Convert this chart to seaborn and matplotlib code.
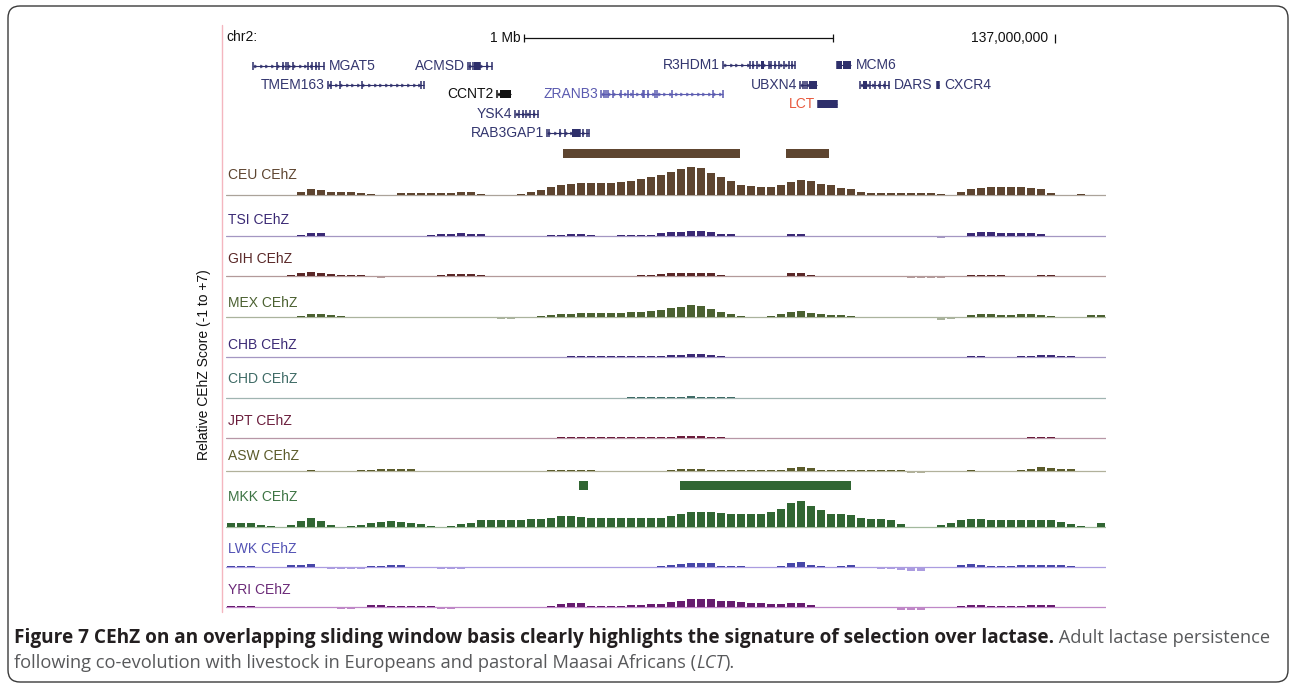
import numpy as np
import pandas as pd
import matplotlib.pyplot as plt
import seaborn as sns
from matplotlib.patches import FancyBboxPatch, Rectangle

W, H = 1290, 683

# ---- window / bins (Mb on chr2) ----
win_start = 134.317
win_step = 0.03236
n_bins = 88

tracks = ['CEU', 'TSI', 'GIH', 'MEX', 'CHB', 'CHD', 'JPT', 'ASW', 'MKK', 'LWK', 'YRI']

ceu = [0, 0, 0, 0, 0, 0, 0.1, 0.7, 1.5, 1.2, 0.7,
       0.6, 0.6, 0.5, 0.2, 0, 0.1, 0.35, 0.35, 0.4, 0.4, 0.45,
       0.55, 0.6, 0.6, 0.2, 0, 0, 0, 0.2, 0.7, 1.2, 1.9,
       2.3, 2.6, 2.7, 2.8, 2.8, 2.9, 3.0, 3.3, 3.7, 4.2, 4.7,
       5.3, 6.0, 6.5, 6.3, 5.1, 4.2, 3.3, 2.3, 2.1, 1.9, 1.9,
       2.3, 3.0, 3.5, 3.3, 2.6, 2.3, 1.6, 1.4, 0.7, 0.35, 0.35,
       0.35, 0.35, 0.35, 0.35, 0.35, 0.2, 0, 0.7, 1.4, 1.7, 1.9,
       1.9, 1.9, 1.9, 1.7, 1.4, 0.5, 0, 0, 0.2, 0, 0]
tsi = [0, 0, 0, 0, 0, 0, 0, 0.3, 0.7, 0.6, 0,
       0, 0, 0, 0, 0, 0, 0, 0, 0, 0.3, 0.4,
       0.5, 0.6, 0.5, 0.4, 0, 0, 0, 0, 0, 0, 0.3,
       0.3, 0.35, 0.35, 0.3, 0.1, 0.1, 0.2, 0.25, 0.25, 0.3, 0.8,
       1.0, 1.0, 1.2, 1.1, 0.9, 0.5, 0.4, -0.2, -0.3, -0.3, -0.3,
       -0.1, 0.5, 0.5, 0.1, 0.1, 0.1, 0.1, 0.1, 0.1, 0.1, 0.1,
       -0.1, -0.1, -0.1, -0.1, -0.3, -0.4, -0.3, 0.1, 0.7, 1.0, 1.0,
       0.8, 0.7, 0.6, 0.6, 0.4, -0.1, -0.1, -0.1, -0.1, -0.1, 0.1]
gih = [0, 0, 0, 0, 0, 0, 0.3, 0.6, 0.85, 0.8, 0.4,
       0.3, 0.25, 0.2, 0, -0.4, -0.1, 0, 0, 0, 0, 0.3,
       0.4, 0.4, 0.35, 0.3, 0, 0, 0, 0, 0, 0, 0,
       0.1, 0.1, 0.1, 0.1, 0.1, 0.1, 0.1, 0.1, 0.2, 0.3, 0.5,
       0.6, 0.6, 0.8, 0.6, 0.6, 0.2, 0.1, -0.3, -0.3, -0.3, -0.3,
       -0.1, 0.6, 0.6, 0.2, 0, -0.2, -0.3, -0.3, -0.3, -0.3, -0.3,
       -0.3, -0.3, -0.5, -0.5, -0.5, -0.5, 0, 0, 0.25, 0.25, 0.25,
       0.2, -0.2, -0.2, -0.2, 0.2, 0.2, 0, -0.3, -0.3, -0.3, -0.3]
mex = [-0.15, -0.15, -0.15, -0.15, -0.15, -0.15, -0.15, 0.3, 0.6, 0.6, 0.4,
       0.2, 0, -0.3, -0.3, -0.3, -0.3, -0.3, -0.3, -0.3, -0.3, -0.3,
       -0.3, -0.3, -0.3, -0.3, -0.3, -0.5, -0.5, -0.2, 0, 0.2, 0.4,
       0.6, 0.8, 0.9, 1.0, 1.0, 1.0, 1.0, 1.1, 1.2, 1.3, 1.6,
       2.0, 2.4, 2.8, 2.5, 1.8, 1.2, 0.8, 0.3, 0.1, 0.1, 0.2,
       0.7, 1.2, 1.4, 1.0, 0.6, 0.5, 0.4, 0.3, -0.2, -0.3, -0.3,
       -0.3, -0.3, -0.3, -0.3, -0.3, -0.6, -0.5, -0.2, 0.4, 0.6, 0.6,
       0.5, 0.5, 0.6, 0.6, 0.5, 0.2, 0, 0, 0.1, 0.5, 0.5]
chb = [0, 0, 0, 0, 0, 0, 0, 0, 0, 0, 0,
       0, 0, 0, 0, 0, 0, 0, 0, 0, 0, 0,
       0, 0, 0, 0, 0, 0, 0, 0, 0, 0, 0,
       0.1, 0.15, 0.15, 0.15, 0.15, 0.15, 0.15, 0.15, 0.15, 0.15, 0.3,
       0.4, 0.5, 0.6, 0.6, 0.4, 0.2, 0.1, 0, 0, 0, 0,
       0, 0, 0, 0, 0, 0, 0, 0, 0, 0, 0,
       0, 0, 0, 0, 0, 0, 0, 0, 0.2, 0.2, 0,
       0, 0, 0.2, 0.3, 0.35, 0.35, 0.3, 0.2, 0, 0, 0]
chd = [0, 0, 0, 0, 0, 0, 0, 0, 0, 0, 0,
       0, 0, 0, 0, 0, 0, 0.1, 0.1, 0.1, 0.1, 0.1,
       0.1, 0.1, 0, 0, 0, 0, 0, 0, 0, 0, 0,
       0.1, 0.1, 0.1, 0.1, 0.1, 0.1, 0.1, 0.2, 0.2, 0.2, 0.2,
       0.2, 0.2, 0.45, 0.3, 0.2, 0.2, 0.2, 0, 0, 0, 0,
       0, 0, 0, 0, 0, 0, 0, 0, 0, 0, 0,
       0, 0, 0, 0, 0, 0, 0, 0, 0, 0, 0,
       0, 0, 0, 0.1, 0.1, 0.1, 0.1, 0.1, 0.1, 0.1, 0]
jpt = [0, 0, 0, 0, 0, 0, 0, 0, 0, 0, 0,
       0, 0, 0, 0, 0, 0, 0, 0, 0, 0, 0,
       0.1, 0.1, 0, 0, 0, 0, 0, 0, 0, 0, 0,
       0.2, 0.2, 0.2, 0.2, 0.15, 0.15, 0.15, 0.15, 0.15, 0.15, 0.15,
       0.15, 0.4, 0.45, 0.4, 0.3, 0.2, 0, 0, 0, 0, 0,
       0, 0, 0, 0, 0, 0, 0, 0, 0, 0, 0,
       0, 0, 0, 0, 0, 0, 0, 0, 0, 0, 0,
       0, 0, 0, 0.3, 0.3, 0.2, 0, 0, 0, 0, 0]
asw = [-0.1, -0.1, -0.1, -0.1, -0.1, -0.1, -0.1, 0.1, 0.25, 0.1, 0,
       0, 0, 0.2, 0.3, 0.4, 0.5, 0.5, 0.4, -0.1, -0.3, -0.3,
       -0.3, -0.2, -0.15, -0.15, -0.15, -0.15, -0.15, -0.15, -0.15, 0.1, 0.15,
       0.15, 0.15, 0.15, 0.15, -0.2, -0.2, -0.2, 0.1, 0.1, 0.1, 0.1,
       0.3, 0.4, 0.5, 0.4, 0.2, 0.15, 0.15, 0.15, 0.15, 0.15, 0.15,
       0.15, 0.7, 1.0, 0.6, 0.15, 0.15, 0.15, 0.15, 0.15, 0.15, 0.15,
       0.15, 0.15, -0.5, -0.5, -0.3, -0.3, -0.3, 0.1, 0.2, 0.1, 0.1,
       0.1, 0.1, 0.2, 0.5, 0.9, 0.8, 0.5, 0.4, 0.1, 0, 0]
mkk = [1.0, 1.0, 1.0, 0.5, 0.2, 0.1, 0.5, 1.5, 2.2, 1.4, 0.5,
       0.1, 0.2, 0.4, 1.0, 1.2, 1.3, 1.1, 1.0, 0.8, 0.3, 0.1,
       0.2, 0.6, 1.0, 1.6, 1.7, 1.7, 1.6, 1.6, 1.8, 1.9, 2.2,
       2.5, 2.5, 2.4, 2.1, 2.0, 2.0, 2.0, 2.0, 2.0, 2.0, 2.2,
       2.5, 3.0, 3.5, 3.5, 3.5, 3.2, 3.1, 3.0, 3.0, 3.0, 3.6,
       4.3, 5.5, 6.0, 5.0, 4.0, 3.0, 3.0, 2.8, 2.1, 1.9, 1.9,
       1.6, 0.8, 0.1, 0, 0, 0.5, 0.9, 1.6, 1.9, 1.9, 1.6,
       1.55, 1.55, 1.55, 1.6, 1.7, 1.6, 1.2, 0.6, 0.2, 0, 0.9]
lwk = [0.25, 0.25, 0.2, 0, 0, 0.1, 0.4, 0.5, 0.6, -0.3, -0.55,
       -0.55, -0.5, -0.4, 0.2, 0.3, 0.4, 0.4, 0.1, -0.2, -0.2, -0.5,
       -0.5, -0.5, -0.3, 0.1, 0.1, 0.1, -0.1, 0.1, 0.1, -0.1, 0.1,
       -0.2, -0.2, -0.1, 0.1, 0.1, 0.1, 0.1, 0.1, 0.1, 0.1, 0.3,
       0.4, 0.7, 1.0, 1.0, 0.9, 0.3, 0.2, 0.2, -0.2, -0.2, 0.1,
       0.2, 0.9, 1.1, 0.5, 0.2, -0.1, 0.3, 0.35, 0, -0.1, -0.4,
       -0.5, -0.7, -0.9, -0.9, -0.2, 0.1, 0.1, 0.5, 0.6, 0.5, 0.2,
       0.2, 0.2, 0.4, 0.45, 0.45, 0.45, 0.4, 0.3, -0.3, 0, 0.1]
yri = [0.25, 0.25, 0.25, 0.1, 0.1, -0.2, -0.2, -0.2, -0.2, 0, 0.05,
       -0.35, -0.35, -0.3, 0.4, 0.45, 0.2, 0.15, 0.15, 0.15, 0.15, -0.35,
       -0.35, 0.1, 0.1, 0.1, -0.1, -0.1, -0.1, -0.1, -0.1, -0.1, 0.3,
       0.7, 0.9, 0.9, 0.25, 0.25, 0.3, 0.25, 0.45, 0.5, 0.6, 0.8,
       1.1, 1.3, 1.8, 1.85, 1.8, 1.5, 1.3, 1.1, 0.9, 0.9, 0.7,
       0.8, 0.9, 0.9, 0.4, 0.05, -0.1, -0.1, -0.1, -0.1, -0.1, -0.25,
       -0.3, -0.6, -0.7, -0.6, -0.3, -0.3, -0.2, 0.3, 0.45, 0.45, 0.2,
       0.2, 0.2, 0.2, 0.5, 0.55, 0.5, 0.1, 0.05, -0.3, 0.1, 0.1]
scores = [ceu, tsi, gih, mex, chb, chd, jpt, asw, mkk, lwk, yri]

# selected regions (Mb) drawn above CEU and MKK
ceu_hits = [(135.408, 135.981), (136.129, 136.269)]
mkk_hits = [(135.460, 135.489), (135.786, 136.340)]

# genes (Mb), exons and coding blocks as fractions of the gene span
gene_names = ['MGAT5', 'TMEM163', 'ACMSD', 'CCNT2', 'ZRANB3', 'YSK4', 'RAB3GAP1',
              'R3HDM1', 'UBXN4', 'LCT', 'MCM6', 'DARS', 'CXCR4']
gene_start = [134.405, 134.647, 135.100, 135.194, 135.531, 135.252, 135.356,
              135.926, 136.175, 136.233, 136.294, 136.369, 136.618]
gene_end = [134.634, 134.958, 135.178, 135.239, 135.926, 135.327, 135.492,
            136.159, 136.230, 136.294, 136.340, 136.463, 136.625]
gene_exons = [[0, .34, .42, .46, .49, .56, .77, .83, .89, .93, 1],
              [0, .03, .13, .35, .97, 1],
              [0, .1, .19, .29, .39, .5, .79, 1],
              [0],
              [0, .02, .04, .06, .1, .16, .22, .26, .34, .35, .38, .44, .46, .58, .92, 1],
              [0, .19, .34, .49, .66, .81, 1],
              [0, .05, .31, .43, .78, .86, .94, 1],
              [0, .37, .42, .47, .63, .67, .72, .77, .84, .91, .95, 1],
              [0, .14, .26, .4],
              [0, 1],
              [0],
              [0, .34, .51, .68, .85, 1],
              [0, 1]]
gene_cds = [[], [], [(.25, .5)], [(.25, 1)], [], [], [(.59, .78)],
            [(.52, .56)], [(.5, 1)], [(0, 1)], [(0, .35), (.42, 1)], [(.09, .23)], [(0, 1)]]

# ---- layout / style ----
baseline_px = [195, 236, 276, 317, 357, 398, 438, 471, 527, 567, 607]
label_off_px = [20, 16, 17, 14, 12, 19, 17, 15, 30, 18, 17]
px_per_unit = 4.3
dark = ['#5e4530', '#3b2a75', '#5a2828', '#4b6131', '#3b2a75', '#3f6b66',
        '#6b1d3c', '#5b5b2b', '#316633', '#4747a8', '#661c6e']
light = ['#aba39a', '#a497c2', '#b39a9a', '#aab39d', '#a497c2', '#a0b4b1',
         '#b797a6', '#b1b19b', '#a2b99d', '#ab9ce0', '#bf87c7']
label_col = ['#5e4530', '#3b2a75', '#5a2828', '#4b6131', '#3b2a75', '#3f6b66',
             '#6b1d3c', '#5b5b2b', '#3d7444', '#5252b4', '#6b2a78']
gene_row = [66, 85, 66, 94, 94, 114, 133, 65, 85, 104, 65, 85, 85]
gene_side = ['R', 'L', 'L', 'L', 'L', 'L', 'L', 'L', 'L', 'L', 'R', 'R', 'R']
gene_lab_col = ['#33366f'] * 3 + ['#111111', '#5b5bb0'] + ['#33366f'] * 4 + ['#e8593d'] + ['#33366f'] * 3
gene_glyph_col = ['#2e2f6b'] * 3 + ['#111111', '#5b5bb0'] + ['#2e2f6b'] * 8

sns.set_theme(style="white")
plt.rcParams['font.family'] = ['Liberation Sans', 'DejaVu Sans']

fig = plt.figure(figsize=(W / 100, H / 100), dpi=100)
xlim = (win_start, win_start + n_bins * win_step)
ax_left, ax_w = 226 / W, 880 / W
mb_px = 1 / 309.0

# overlay in pixel space for frame, caption etc.
over = fig.add_axes([0, 0, 1, 1])
over.set_xlim(0, W)
over.set_ylim(H, 0)
over.axis('off')
over.add_patch(FancyBboxPatch((8, 6), 1280, 676, boxstyle='round,pad=0,rounding_size=12',
                              fc='none', ec='#3a3a3a', lw=1.0))
over.plot([222, 222], [25, 612], color='#f4b6bf', lw=1.0)
over.text(204, 365, 'Relative CEhZ Score (-1 to +7)', rotation=90, ha='center', va='center',
          fontsize=10, color='#111111')

# ---- gene track ----
gax = fig.add_axes([ax_left, (H - 145) / H, ax_w, 125 / H])
gax.set_xlim(*xlim)
gax.set_ylim(145, 20)
gax.axis('off')
gax.text(xlim[0], 37, 'chr2:', ha='left', va='center', fontsize=10, color='#111111')
gax.plot([135.282, 136.282], [38, 38], color='#111111', lw=0.9)
gax.vlines([135.282, 136.282], 34, 42, color='#111111', lw=0.9)
gax.text(135.282 - 4 * mb_px, 38, '1 Mb', ha='right', va='center', fontsize=10, color='#111111')
gax.vlines([137.0], 34, 43, color='#111111', lw=0.9)
gax.text(137.0 - 7 * mb_px, 38, '137,000,000', ha='right', va='center', fontsize=10, color='#111111')

for name, s, e, ex, cds, y, side, lc, gc in zip(gene_names, gene_start, gene_end, gene_exons,
                                                  gene_cds, gene_row, gene_side,
                                                  gene_lab_col, gene_glyph_col):
    span = e - s
    gax.plot([s, e], [y, y], color=gc, lw=0.8, solid_capstyle='butt')
    # little intron arrows
    if span > 0.04:
        ticks = np.arange(s + 0.01, e - 0.005, 0.018)
        gax.plot(ticks, [y] * len(ticks), ls='none', marker=5, ms=2.0, color=gc, alpha=0.8)
    gax.vlines([s + f * span for f in ex], y - 4, y + 4, color=gc, lw=1.1)
    for a, b in cds:
        gax.add_patch(Rectangle((s + a * span, y - 4), (b - a) * span, 8, color=gc, lw=0))
    if side == 'L':
        gax.text(s - 3 * mb_px, y, name, ha='right', va='center', fontsize=10, color=lc)
    else:
        gax.text(e + 5 * mb_px, y, name, ha='left', va='center', fontsize=10, color=lc)

# ---- CEhZ tracks ----
centers = win_start + win_step * (np.arange(n_bins) + 0.5)
for k, name in enumerate(tracks):
    b = baseline_px[k]
    ax = fig.add_axes([ax_left, (H - b - px_per_unit) / H, ax_w, 8 * px_per_unit / H])
    df = pd.DataFrame({'pos': centers, 'score': scores[k]})
    df['sign'] = np.where(df['score'] >= 0, 'pos', 'neg')
    ax.axhline(0, color=light[k], lw=0.9, zorder=0)
    sns.barplot(data=df, x='pos', y='score', hue='sign', palette={'pos': dark[k], 'neg': light[k]},
                native_scale=True, dodge=False, width=0.9, errorbar=None, legend=False,
                saturation=1, linewidth=0, ax=ax)
    ax.set_xlim(*xlim)
    ax.set_ylim(-1, 7)
    ax.axis('off')
    ax.text(xlim[0] + 1.5 * mb_px, label_off_px[k] / px_per_unit, name + ' CEhZ', ha='left',
            va='center', fontsize=10, color=label_col[k])
    hits = ceu_hits if name == 'CEU' else mkk_hits if name == 'MKK' else []
    for s, e in hits:
        ax.add_patch(Rectangle((s, 8.5), e - s, 2.1, color=dark[k], lw=0, clip_on=False))

# ---- caption ----
renderer = fig.canvas.get_renderer()
cap_font = ['Open Sans', 'DejaVu Sans']
bold_txt = ('Figure 7 CEhZ on an overlapping sliding window basis clearly highlights '
            'the signature of selection over lactase.')
t = over.text(14, 643, bold_txt, fontsize=12, fontweight='bold', family=cap_font,
              color='#231f20', ha='left', va='baseline')
fs = 12 * 1040 / t.get_window_extent(renderer).width
t.set_fontsize(fs)

line2 = 'following co-evolution with livestock in Europeans and pastoral Maasai Africans ('
probe = over.text(0, 0, line2 + 'LCT).', fontsize=12, family=cap_font)
fs_reg = 12 * 720 / probe.get_window_extent(renderer).width
probe.remove()


def put(x, y, s, **kw):
    tt = over.text(x, y, s, fontsize=fs_reg, family=cap_font, color='#58595b', ha='left',
                   va='baseline', **kw)
    return tt.get_window_extent(renderer).x1


put(t.get_window_extent(renderer).x1, 643, ' Adult lactase persistence')
x = put(14, 668, line2)
x = put(x, 668, 'LCT', style='italic')
put(x, 668, ').')

fig.savefig('out.png', dpi=100)
